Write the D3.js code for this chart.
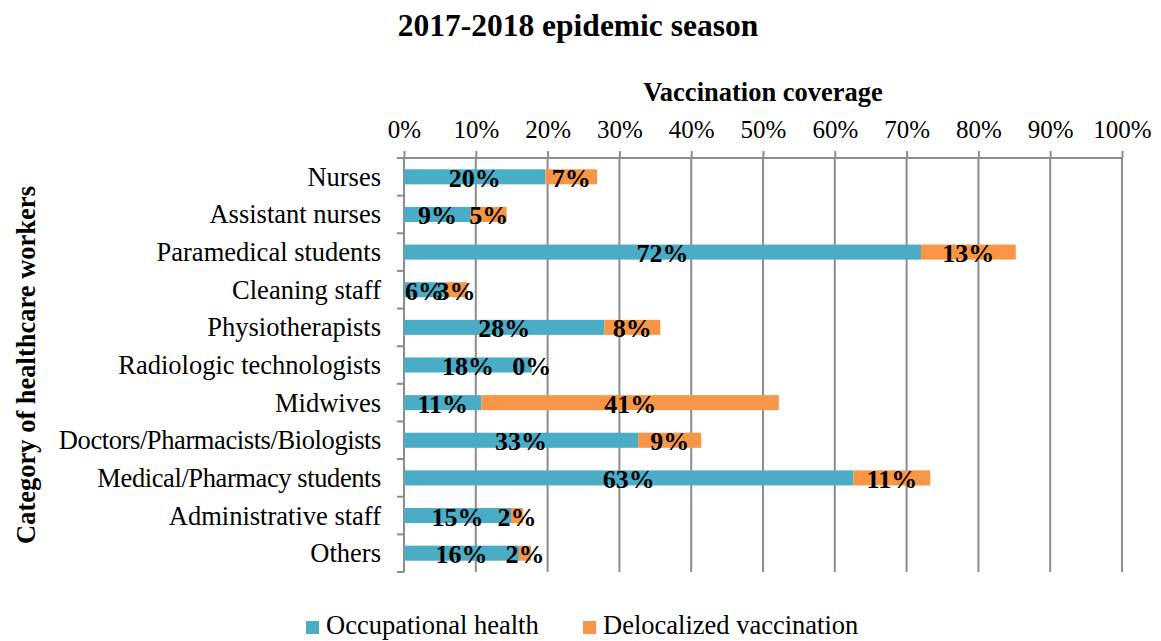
<!DOCTYPE html>
<html>
<head>
<meta charset="utf-8">
<script src="https://cdnjs.cloudflare.com/ajax/libs/d3/7.8.5/d3.min.js"></script>
<style>
  body { margin: 0; background: #fff; }
  svg { display: block; font-family: "Liberation Serif", "Times New Roman", serif; }
</style>
</head>
<body>
<div id="chart"></div>
<script>
// categories, top to bottom
var categories = ["Nurses", "Assistant nurses", "Paramedical students", "Cleaning staff",
  "Physiotherapists", "Radiologic technologists", "Midwives", "Doctors/Pharmacists/Biologists",
  "Medical/Pharmacy students", "Administrative staff", "Others"];
// values (percent)
var occupational = [19.7, 9.3, 72.0, 5.7, 27.9, 17.8, 10.8, 32.6, 62.6, 14.9, 16.0];
var delocalized  = [7.2, 5.0, 13.2, 3.1, 7.8, 0.0, 41.4, 8.8, 10.7, 1.7, 1.7];
// labels as printed on the chart
var occLabels = ["20%", "9%", "72%", "6%", "28%", "18%", "11%", "33%", "63%", "15%", "16%"];
var delLabels = ["7%", "5%", "13%", "3%", "8%", "0%", "41%", "9%", "11%", "2%", "2%"];
var ticks = [0, 10, 20, 30, 40, 50, 60, 70, 80, 90, 100];
var seriesNames = ["Occupational health", "Delocalized vaccination"];
var colors = ["#4BACC6", "#F79646"];

var W = 1161, H = 641;
var plotLeft = 404, plotRight = 1122, plotTop = 158, plotBottom = 572;

var svg = d3.select("#chart").append("svg").attr("width", W).attr("height", H);

var x = d3.scaleLinear().domain([0, 100]).range([plotLeft, plotRight]);
var y = d3.scaleBand().domain(categories).range([plotTop, plotBottom]).paddingInner(0.6).paddingOuter(0.3);
var band = d3.scaleBand().domain(categories).range([plotTop, plotBottom]);

// gridlines
svg.append("g").selectAll("line").data(ticks.slice(1)).enter().append("line")
  .attr("x1", function (d) { return x(d); }).attr("x2", function (d) { return x(d); })
  .attr("y1", plotTop).attr("y2", plotBottom)
  .attr("stroke", "#8c8c8c").attr("stroke-width", 2);

// top axis
var xAxis = d3.axisTop(x).tickValues(ticks).tickSize(7).tickPadding(13)
  .tickFormat(function (d) { return d + "%"; });
var gx = svg.append("g").attr("transform", "translate(0," + plotTop + ")").call(xAxis);
gx.select(".domain").attr("stroke", "#8c8c8c").attr("stroke-width", 2)
  .attr("d", "M" + (plotLeft - 7) + ",0H" + plotRight);
gx.selectAll(".tick line").attr("stroke", "#8c8c8c").attr("stroke-width", 2);
gx.selectAll(".tick text").attr("font-size", 25).attr("fill", "#000")
  .attr("font-family", "Liberation Serif, Times New Roman, serif");

// left axis (ticks at band boundaries)
var gy = svg.append("g");
gy.append("line").attr("x1", plotLeft).attr("x2", plotLeft).attr("y1", plotTop).attr("y2", plotBottom)
  .attr("stroke", "#8c8c8c").attr("stroke-width", 2);
var bounds = categories.map(function (c) { return band(c); }).concat([plotBottom]);
gy.selectAll("line.t").data(bounds).enter().append("line").attr("class", "t")
  .attr("x1", plotLeft - 7).attr("x2", plotLeft)
  .attr("y1", function (d) { return d; }).attr("y2", function (d) { return d; })
  .attr("stroke", "#8c8c8c").attr("stroke-width", 2);
gy.selectAll("text").data(categories).enter().append("text")
  .attr("x", plotLeft - 23)
  .attr("y", function (d) { return band(d) + band.bandwidth() / 2 + 9; })
  .attr("text-anchor", "end").attr("font-size", 26.5)
  .attr("letter-spacing", function (d) { return d.indexOf("/") >= 0 ? -0.4 : 0; })
  .text(function (d) { return d; });

// bars
var rows = categories.map(function (c, i) {
  return { cat: c, a: occupational[i], b: delocalized[i], la: occLabels[i], lb: delLabels[i] };
});
var g = svg.append("g");
rows.forEach(function (r) {
  g.append("rect").attr("x", x(0)).attr("y", y(r.cat)).attr("width", x(r.a) - x(0))
    .attr("height", y.bandwidth()).attr("fill", colors[0]);
  g.append("rect").attr("x", x(r.a)).attr("y", y(r.cat)).attr("width", x(r.a + r.b) - x(r.a))
    .attr("height", y.bandwidth()).attr("fill", colors[1]);
});
rows.forEach(function (r) {
  var yc = band(r.cat) + band.bandwidth() / 2;
  g.append("text").attr("x", x(r.a / 2)).attr("y", yc + 10)
    .attr("text-anchor", "middle").attr("font-size", 26).attr("font-weight", "bold").text(r.la);
  g.append("text").attr("x", x(r.a + r.b / 2)).attr("y", yc + 10)
    .attr("text-anchor", "middle").attr("font-size", 26).attr("font-weight", "bold").text(r.lb);
});

// titles
svg.append("text").attr("x", 578).attr("y", 36).attr("text-anchor", "middle")
  .attr("font-size", 31.5).attr("font-weight", "bold").text("2017-2018 epidemic season");
svg.append("text").attr("x", (plotLeft + plotRight) / 2).attr("y", 101).attr("text-anchor", "middle")
  .attr("font-size", 26.5).attr("font-weight", "bold").text("Vaccination coverage");
svg.append("text").attr("transform", "translate(35,365) rotate(-90)").attr("text-anchor", "middle")
  .attr("font-size", 26.5).attr("font-weight", "bold").text("Category of healthcare workers");

// legend
var legX = [306, 583];
var leg = svg.append("g").selectAll("g").data(seriesNames).enter().append("g")
  .attr("transform", function (d, i) { return "translate(" + legX[i] + ",0)"; });
leg.append("rect").attr("x", 0).attr("y", 621).attr("width", 13).attr("height", 13)
  .attr("fill", function (d, i) { return colors[i]; });
leg.append("text").attr("x", 20).attr("y", 634).attr("font-size", 26.5).text(function (d) { return d; });
</script>
</body>
</html>
